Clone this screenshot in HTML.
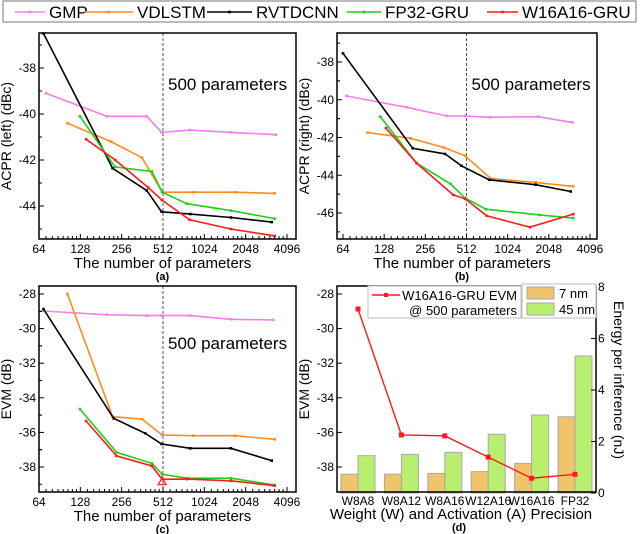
<!DOCTYPE html>
<html><head><meta charset="utf-8"><style>
body{margin:0;background:#fff;}
svg{display:block;font-family:"Liberation Sans",sans-serif;}
</style></head><body>
<svg id="fig" width="640" height="534" viewBox="0 0 640 534" xmlns="http://www.w3.org/2000/svg"></svg>
<script>
// ---------- data ----------
const aGmpX=[72,200,390,500,800,1600,3400]; const aGmpY=[-39.1,-40.1,-40.1,-40.8,-40.7,-40.8,-40.9];
const aVdlX=[103,214,360,505,850,1720,3330]; const aVdlY=[-40.4,-41.2,-41.9,-43.4,-43.4,-43.4,-43.45];
const aRvtX=[69,220,390,500,810,1600,3170]; const aRvtY=[-36.5,-42.36,-43.33,-44.25,-44.35,-44.5,-44.7];
const aFpX=[127,229,425,505,765,1600,3330]; const aFpY=[-40.1,-42.3,-42.5,-43.4,-43.9,-44.2,-44.55];
const aW16X=[141,230,400,505,800,1600,3330]; const aW16Y=[-41.1,-42.0,-43.2,-43.75,-44.6,-45.0,-45.3];

const bGmpX=[68,187,367,500,760,1710,3050]; const bGmpY=[-39.8,-40.4,-40.86,-40.86,-40.93,-40.9,-41.2];
const bVdlX=[97,200,350,500,770,1640,3090]; const bVdlY=[-41.74,-42.04,-42.53,-42.97,-44.17,-44.38,-44.59];
const bRvtX=[64,207,357,470,750,1640,2960]; const bRvtY=[-37.54,-42.57,-42.87,-43.5,-44.24,-44.5,-44.86];
const bFpX=[120,221,392,500,710,1750,3090]; const bFpY=[-40.9,-43.36,-44.46,-45.21,-45.8,-46.1,-46.27];
const bW16X=[132,221,410,500,720,1490,3090]; const bW16Y=[-41.5,-43.36,-45.04,-45.25,-46.15,-46.75,-46.06];

const cGmpX=[69,200,390,500,810,1600,3240]; const cGmpY=[-28.98,-29.2,-29.25,-29.25,-29.25,-29.46,-29.5];
const cVdlX=[103,220,360,505,850,1720,3330]; const cVdlY=[-28,-35.09,-35.23,-36.15,-36.19,-36.19,-36.4];
const cRvtX=[69,224,380,500,810,1600,3170]; const cRvtY=[-28.87,-35.19,-36.05,-36.67,-36.92,-36.92,-37.63];
const cFpX=[127,235,425,505,765,1600,3330]; const cFpY=[-34.65,-37.15,-37.79,-38.42,-38.65,-38.65,-39.04];
const cW16X=[141,235,425,505,765,1600,3330]; const cW16Y=[-35.34,-37.36,-37.94,-38.71,-38.7,-38.8,-39.08];

const dCats=["W8A8","W8A12","W8A16","W12A16","W16A16","FP32"];
const dE7=[0.73,0.73,0.76,0.83,1.15,2.96];
const dE45=[1.45,1.5,1.58,2.28,3.03,5.32];
const dEvm=[-28.87,-36.15,-36.2,-37.43,-38.65,-38.42];

const xTicks=[64,128,256,512,1024,2048,4096];
const colors={gmp:"#f27ff2",vdl:"#ff8c1a",rvt:"#000",fp:"#1ad11a",w16:"#ff1a1a"};

// ---------- helpers ----------
const NS="http://www.w3.org/2000/svg";
const svg=document.getElementById('fig');
function el(tag,attrs,parent,text){const e=document.createElementNS(NS,tag);for(const k in attrs)e.setAttribute(k,attrs[k]);if(text!==undefined)e.textContent=text;(parent||svg).appendChild(e);return e;}

function logAxis(x0,x1){return p=>x0+(x1-x0)*Math.log2(p/64)/6;}
function linAxis(v0,p0,v1,p1){return v=>p0+(v-v0)*(p1-p0)/(v1-v0);}

function panel(name,box,xs,ys,yTicks,minorStep,series,ytitle,label){
  const g=el('g',{},svg);
  
  
  // dashed 500 line
  const dl=el('line',{x1:xs(512),x2:xs(512),y1:box.t,y2:box.b,stroke:'#555','stroke-dasharray':'3,2','stroke-width':1},g);
  
  
  const t5=el('text',{x:xs(512)+5,y:box.t+(name==='panel-c'?63:57),'font-size':17},g,'500 parameters');
  
  
  // series
  series.forEach(s=>{
    const pts=s.x.map((v,i)=>xs(v).toFixed(1)+','+ys(s.y[i]).toFixed(1)).join(' ');
    const pl=el('polyline',{points:pts,fill:'none',stroke:s.c,'stroke-width':1.6},g);
    
    
    s.x.forEach((v,i)=>{
      const m=el('rect',{x:xs(v)-1.3,y:ys(s.y[i])-1.3,width:2.6,height:2.6,fill:s.c},g);
      
      
    });
  });
  // frame
  const fr=el('rect',{x:box.l,y:box.t,width:box.r-box.l,height:box.b-box.t,fill:'none',stroke:'#000','stroke-width':1.5},g);
  
  
  // x ticks
  xTicks.forEach((t,i)=>{
    const x=xs(t);
    el('line',{x1:x,x2:x,y1:box.b,y2:box.b-5,stroke:'#000'},g);
    const tl=el('text',{x:x,y:box.b+14,'font-size':12,'text-anchor':'middle'},g,String(t));
    
    
    if(i<xTicks.length-1){for(let j=1;j<8;j++){const mx=xs(t*(1+j/8));el('line',{x1:mx,x2:mx,y1:box.b,y2:box.b-3,stroke:'#000'},g);}}
  });
  // y ticks
  yTicks.forEach(t=>{
    const y=ys(t);
    el('line',{x1:box.l,x2:box.l+5,y1:y,y2:y,stroke:'#000'},g);
    const tl=el('text',{x:box.l-3,y:y+4,'font-size':12,'text-anchor':'end'},g,String(t));
    
    
    const my=ys(t+minorStep);
    if(my>box.t) el('line',{x1:box.l,x2:box.l+3,y1:my,y2:my,stroke:'#000'},g);
    const my2=ys(t-minorStep);
    if(my2<box.b) el('line',{x1:box.l,x2:box.l+3,y1:my2,y2:my2,stroke:'#000'},g);
  });
  const xt=el('text',{x:(box.l+box.r)/2-5,y:box.b+29,'font-size':15,'text-anchor':'middle'},g,'The number of parameters');
  
  
  const cy=(box.t+box.b)/2;
  const yt=el('text',{x:box.l-28,y:cy,'font-size':14,'text-anchor':'middle',transform:`rotate(-90 ${box.l-28} ${cy})`},g,ytitle);
  
  
  const lb=el('text',{x:(box.l+box.r)/2-5,y:box.b+41,'font-size':11,'font-weight':'bold','text-anchor':'middle'},g,label);
  
  
}
function mk(x,y,c,n){return {x:x,y:y,c:c,n:n};}

// panel a
{const box={l:39,r:296,t:33,b:239};
 panel('panel-a',box,logAxis(39,287),linAxis(-38,68,-44,206),[-38,-40,-42,-44],1,
 [mk(aGmpX,aGmpY,colors.gmp,'gmp'),mk(aVdlX,aVdlY,colors.vdl,'vdlstm'),mk(aRvtX,aRvtY,colors.rvt,'rvtdcnn'),mk(aFpX,aFpY,colors.fp,'fp32-gru'),mk(aW16X,aW16Y,colors.w16,'w16a16-gru')],
 'ACPR (left) (dBc)','(a)');}
// panel b
{const box={l:337,r:597,t:33,b:239};
 panel('panel-b',box,logAxis(343,590),linAxis(-38,62,-46,213),[-38,-40,-42,-44,-46],1,
 [mk(bGmpX,bGmpY,colors.gmp,'gmp'),mk(bVdlX,bVdlY,colors.vdl,'vdlstm'),mk(bRvtX,bRvtY,colors.rvt,'rvtdcnn'),mk(bFpX,bFpY,colors.fp,'fp32-gru'),mk(bW16X,bW16Y,colors.w16,'w16a16-gru')],
 'ACPR (right) (dBc)','(b)');}
// panel c
{const box={l:39,r:296,t:286,b:492};
 panel('panel-c',box,logAxis(39,287),linAxis(-28,294,-38,467),[-28,-30,-32,-34,-36,-38],1,
 [mk(cGmpX,cGmpY,colors.gmp,'gmp'),mk(cVdlX,cVdlY,colors.vdl,'vdlstm'),mk(cRvtX,cRvtY,colors.rvt,'rvtdcnn'),mk(cFpX,cFpY,colors.fp,'fp32-gru'),mk(cW16X,cW16Y,colors.w16,'w16a16-gru')],
 'EVM (dB)','(c)');
 const xs=logAxis(39,287),ys=linAxis(-28,294,-38,467);
 const tri=el('polygon',{points:`${xs(505)-4},${ys(-38.85)+3} ${xs(505)+4},${ys(-38.85)+3} ${xs(505)},${ys(-38.85)-4}`,fill:'none',stroke:'#ff1a1a','stroke-width':1.2});
 
 }

// panel d
{const box={l:337,r:596,t:286,b:492};
 const g=el('g',{});
 
 
 const cx=i=>358+43.4*i;
 const ysL=linAxis(-28,294,-38,467);
 const ysR=linAxis(0,493,8,287);
 dCats.forEach((c,i)=>{
  const b1=el('rect',{x:cx(i)-17,y:ysR(dE7[i]),width:17,height:ysR(0)-ysR(dE7[i]),fill:'#f0c46a',stroke:'#a8a8a8','stroke-width':1},g);
  
  
  const b2=el('rect',{x:cx(i),y:ysR(dE45[i]),width:17,height:ysR(0)-ysR(dE45[i]),fill:'#b9ef6e',stroke:'#a8a8a8','stroke-width':1},g);
  
  
  const tl=el('text',{x:cx(i),y:box.b+13,'font-size':12,'text-anchor':'middle'},g,c);
  
  
 });
 const pl=el('polyline',{points:dEvm.map((v,i)=>cx(i)+','+ysL(v)).join(' '),fill:'none',stroke:'#ff1a1a','stroke-width':1.4},g);
 
 
 dEvm.forEach((v,i)=>{const m=el('rect',{x:cx(i)-2.5,y:ysL(v)-2.5,width:5,height:5,fill:'#ff1a1a'},g);
  
  });
 const fr=el('rect',{x:box.l,y:box.t,width:box.r-box.l,height:box.b-box.t,fill:'none',stroke:'#000','stroke-width':1.5},g);
 
 
 [-28,-30,-32,-34,-36,-38].forEach(t=>{const y=ysL(t);el('line',{x1:box.l,x2:box.l+5,y1:y,y2:y,stroke:'#000'},g);
  const tl=el('text',{x:box.l-3,y:y+4,'font-size':12,'text-anchor':'end'},g,String(t));
  
  });
 [0,2,4,6,8].forEach(t=>{const y=ysR(t);el('line',{x1:box.r,x2:box.r-5,y1:y,y2:y,stroke:'#000'},g);
  const tl=el('text',{x:box.r+2,y:y+4,'font-size':12},g,String(t));
  
  });
 const yt=el('text',{x:309,y:389,'font-size':14,'text-anchor':'middle',transform:'rotate(-90 309 389)'},g,'EVM (dB)');
 
 
 const yt2=el('text',{x:614,y:380,'font-size':14,'text-anchor':'middle',transform:'rotate(90 614 380)'},g,'Energy per inference (nJ)');
 
 
 const xt=el('text',{x:461,y:519,'font-size':15,'text-anchor':'middle'},g,'Weight (W) and Activation (A) Precision');
 
 
 const lb=el('text',{x:459,y:531,'font-size':11,'font-weight':'bold','text-anchor':'middle'},g,'(d)');
 
 
 // legend
 const lg=el('g',{},g);
 
 
 el('rect',{x:368,y:286,width:153,height:32,fill:'#fff',stroke:'#bbb'},lg);
 el('line',{x1:372,x2:400,y1:295,y2:295,stroke:'#ff1a1a','stroke-width':1.4},lg);
 el('rect',{x:384,y:293,width:4,height:4,fill:'#ff1a1a'},lg);
 el('text',{x:517,y:300,'font-size':13,'text-anchor':'end'},lg,'W16A16-GRU EVM');
 el('text',{x:517,y:315,'font-size':13,'text-anchor':'end'},lg,'@ 500 parameters');
 el('rect',{x:522,y:284,width:74,height:34,fill:'#fff',stroke:'#bbb'},lg);
 el('rect',{x:527,y:287,width:27,height:12,fill:'#f0c46a',stroke:'#a8a8a8'},lg);
 el('rect',{x:527,y:303,width:27,height:12,fill:'#b9ef6e',stroke:'#a8a8a8'},lg);
 el('text',{x:559,y:298,'font-size':13},lg,'7 nm');
 el('text',{x:559,y:314,'font-size':13},lg,'45 nm');
}

// top legend
{const lg=el('g',{});
 
 
 el('rect',{x:3,y:1,width:633,height:21,fill:'#fff',stroke:'#777'},lg);
 const ents=[['GMP',colors.gmp,15,45,49],['VDLSTM',colors.vdl,84,133,137],['RVTDCNN',colors.rvt,207,252,256],['FP32-GRU',colors.fp,347,381,385],['W16A16-GRU',colors.w16,487,518,522]];
 ents.forEach(e=>{
  const eg=el('g',{},lg);
  
  
  el('line',{x1:e[2],x2:e[3],y1:12,y2:12,stroke:e[1],'stroke-width':1.6},eg);
  el('rect',{x:(e[2]+e[3])/2-1.3,y:10.7,width:2.6,height:2.6,fill:e[1]},eg);
  el('text',{x:e[4],y:18,'font-size':17},eg,e[0]);
 });}
</script>
</body></html>
